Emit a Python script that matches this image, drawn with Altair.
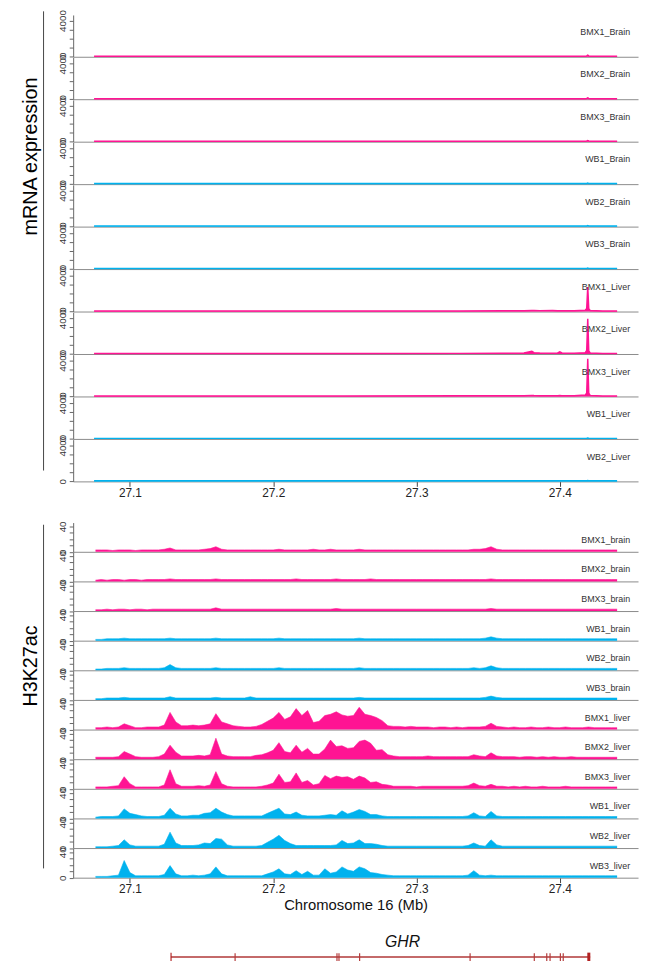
import altair as alt
import pandas as pd

FONT = "Liberation Sans"
PINK = "#FF1493"
BLUE = "#00B2EE"

X_DOMAIN = [27.0604, 27.4546]
X_TICKS = [27.1, 27.2, 27.3, 27.4]
PLOT_W = 572
MRNA_H = 42.3
H3_H = 29.6
MRNA_YMAX = 4610
H3_YMAX = 46
MRNA_TICKS = [0, 1000, 2000, 3000, 4000]
H3_TICKS = [0, 10, 20, 30, 40]

# ---------------- mRNA expression tracks ----------------
MRNA_POS = [27.075, 27.150, 27.250, 27.330, 27.360, 27.375, 27.3805, 27.382, 27.386,
            27.395, 27.3985, 27.400, 27.4015, 27.410, 27.4178, 27.4188, 27.4195,
            27.4202, 27.4212, 27.430, 27.440]

MRNA_SAMPLES = ["BMX1_Brain", "BMX2_Brain", "BMX3_Brain", "WB1_Brain", "WB2_Brain",
                "WB3_Brain", "BMX1_Liver", "BMX2_Liver", "BMX3_Liver", "WB1_Liver",
                "WB2_Liver"]

MRNA_BMX1_BRAIN = [60, 60, 60, 60, 60, 60, 60, 60, 60, 60, 60, 60, 60, 60, 60, 90, 180, 90, 60, 60, 60]
MRNA_BMX2_BRAIN = [60, 60, 60, 60, 60, 60, 60, 60, 60, 60, 60, 60, 60, 60, 60, 80, 150, 80, 60, 60, 60]
MRNA_BMX3_BRAIN = [60, 60, 60, 60, 60, 60, 60, 60, 60, 60, 60, 60, 60, 60, 60, 70, 120, 70, 60, 60, 60]
MRNA_WB1_BRAIN = [60, 60, 60, 60, 60, 60, 60, 60, 60, 60, 60, 60, 60, 60, 60, 80, 120, 80, 60, 60, 60]
MRNA_WB2_BRAIN = [60, 60, 60, 60, 60, 60, 60, 60, 60, 60, 60, 60, 60, 60, 60, 70, 110, 70, 60, 60, 60]
MRNA_WB3_BRAIN = [60, 60, 60, 60, 60, 60, 60, 60, 60, 60, 60, 60, 60, 60, 60, 70, 110, 70, 60, 60, 60]
MRNA_BMX1_LIVER = [50, 50, 60, 70, 90, 90, 110, 120, 100, 110, 90, 100, 90, 80, 150, 350, 2700, 300, 120, 60, 50]
MRNA_BMX2_LIVER = [50, 50, 60, 70, 90, 100, 300, 150, 100, 90, 120, 250, 110, 80, 150, 400, 3900, 350, 120, 60, 50]
MRNA_BMX3_LIVER = [50, 50, 60, 70, 80, 90, 120, 100, 90, 80, 90, 110, 90, 80, 150, 400, 4150, 350, 120, 60, 50]
MRNA_WB1_LIVER = [60, 60, 60, 60, 60, 60, 60, 60, 60, 60, 60, 60, 60, 60, 60, 70, 90, 70, 60, 60, 60]
MRNA_WB2_LIVER = [60, 60, 60, 60, 60, 60, 60, 60, 60, 60, 60, 60, 60, 60, 60, 70, 90, 70, 60, 60, 60]

MRNA_VALUES = [MRNA_BMX1_BRAIN, MRNA_BMX2_BRAIN, MRNA_BMX3_BRAIN, MRNA_WB1_BRAIN,
               MRNA_WB2_BRAIN, MRNA_WB3_BRAIN, MRNA_BMX1_LIVER, MRNA_BMX2_LIVER,
               MRNA_BMX3_LIVER, MRNA_WB1_LIVER, MRNA_WB2_LIVER]

# ---------------- H3K27ac tracks (bins of 4 kb) ----------------
BIN_START = 27.076
BIN_STEP = 0.004
N_BINS = 92
H3_POS = [round(BIN_START + BIN_STEP * i, 3) for i in range(N_BINS)]

H3_SAMPLES = ["BMX1_brain", "BMX2_brain", "BMX3_brain", "WB1_brain", "WB2_brain",
              "WB3_brain", "BMX1_liver", "BMX2_liver", "BMX3_liver", "WB1_liver",
              "WB2_liver", "WB3_liver"]

H3_BMX1_BRAIN = [3, 3, 3, 2, 3, 3, 3, 2, 3, 3,
                 3, 3, 4, 6, 3, 3, 3, 3, 3, 4,
                 5, 8, 4, 3, 3, 3, 3, 3, 3, 3,
                 3, 3, 4, 3, 3, 3, 3, 3, 4, 3,
                 3, 4, 3, 3, 3, 3, 4, 3, 3, 3,
                 3, 3, 3, 3, 3, 3, 3, 3, 3, 3,
                 3, 3, 3, 3, 3, 3, 4, 4, 5, 8,
                 4, 3, 3, 3, 3, 3, 3, 3, 3, 3,
                 3, 3, 3, 3, 3, 3, 3, 3, 3, 3,
                 3, 3]
H3_BMX2_BRAIN = [2, 3, 2, 3, 3, 2, 3, 3, 2, 3,
                 3, 3, 3, 4, 3, 3, 3, 3, 3, 3,
                 3, 4, 3, 3, 3, 3, 3, 3, 3, 3,
                 3, 3, 3, 3, 3, 4, 3, 3, 3, 3,
                 3, 3, 4, 3, 3, 3, 3, 3, 4, 3,
                 3, 3, 3, 3, 3, 3, 3, 3, 3, 3,
                 3, 3, 3, 3, 3, 3, 3, 3, 3, 4,
                 3, 3, 3, 3, 3, 3, 3, 3, 3, 3,
                 3, 3, 3, 3, 3, 3, 3, 3, 3, 3,
                 3, 3]
H3_BMX3_BRAIN = [2, 2, 3, 2, 3, 3, 2, 3, 3, 2,
                 3, 3, 3, 3, 3, 3, 3, 3, 3, 3,
                 3, 5, 3, 3, 3, 3, 3, 3, 3, 3,
                 3, 3, 3, 3, 3, 3, 3, 3, 3, 3,
                 3, 3, 4, 3, 3, 3, 3, 3, 3, 3,
                 3, 3, 3, 3, 3, 3, 3, 3, 3, 3,
                 3, 3, 3, 3, 3, 3, 3, 3, 3, 4,
                 3, 3, 3, 3, 3, 3, 3, 3, 3, 3,
                 3, 3, 3, 3, 3, 3, 3, 3, 3, 3,
                 3, 3]
H3_WB1_BRAIN = [2, 2, 3, 3, 3, 4, 3, 3, 3, 3,
                3, 3, 3, 4, 3, 3, 3, 3, 3, 3,
                3, 4, 3, 3, 3, 3, 3, 3, 3, 3,
                3, 3, 4, 3, 3, 3, 3, 3, 3, 3,
                3, 3, 3, 3, 3, 3, 4, 3, 3, 3,
                3, 3, 3, 3, 3, 3, 3, 3, 3, 3,
                3, 3, 3, 3, 3, 3, 3, 3, 4, 6,
                4, 3, 3, 3, 3, 3, 3, 3, 3, 3,
                3, 3, 3, 3, 3, 3, 3, 3, 3, 3,
                3, 3]
H3_WB2_BRAIN = [2, 2, 3, 3, 3, 4, 3, 3, 3, 3,
                3, 3, 4, 9, 4, 3, 3, 3, 3, 3,
                3, 4, 3, 3, 3, 3, 3, 3, 3, 3,
                3, 3, 4, 3, 3, 3, 3, 3, 3, 3,
                3, 3, 3, 3, 3, 3, 4, 3, 3, 3,
                3, 3, 3, 3, 3, 3, 3, 3, 3, 3,
                3, 3, 3, 3, 3, 3, 4, 3, 4, 7,
                4, 3, 3, 3, 3, 3, 3, 3, 3, 3,
                3, 3, 3, 3, 3, 3, 3, 3, 3, 3,
                3, 3]
H3_WB3_BRAIN = [2, 2, 3, 3, 3, 4, 3, 3, 3, 3,
                3, 3, 3, 5, 3, 3, 3, 3, 3, 3,
                3, 4, 3, 3, 3, 3, 3, 5, 3, 3,
                3, 3, 3, 3, 3, 3, 3, 3, 3, 3,
                3, 3, 3, 3, 3, 3, 4, 3, 3, 3,
                3, 3, 3, 3, 3, 3, 3, 3, 3, 3,
                3, 3, 3, 3, 3, 3, 3, 3, 4, 6,
                4, 3, 3, 3, 3, 3, 3, 3, 3, 3,
                3, 3, 3, 3, 3, 3, 3, 3, 3, 3,
                3, 3]
H3_BMX1_LIVER = [3, 3, 4, 3, 4, 9, 6, 3, 3, 4,
                 4, 4, 7, 27, 12, 6, 6, 7, 6, 7,
                 9, 25, 12, 9, 6, 5, 4, 4, 5, 8,
                 13, 18, 27, 16, 20, 33, 22, 30, 11, 13,
                 22, 24, 28, 23, 21, 22, 35, 24, 22, 19,
                 14, 6, 5, 5, 4, 5, 4, 4, 4, 3,
                 4, 4, 3, 4, 3, 4, 4, 4, 5, 10,
                 5, 4, 3, 4, 3, 3, 4, 3, 3, 4,
                 3, 3, 4, 3, 3, 3, 4, 3, 3, 3,
                 3, 3]
H3_BMX2_LIVER = [3, 3, 3, 3, 4, 12, 8, 4, 3, 3,
                 3, 4, 8, 22, 11, 5, 5, 5, 6, 5,
                 7, 33, 8, 5, 4, 4, 4, 4, 6, 7,
                 10, 14, 26, 12, 10, 22, 11, 17, 8, 8,
                 16, 30, 20, 21, 17, 18, 28, 30, 25, 14,
                 15, 7, 5, 4, 4, 4, 4, 4, 5, 4,
                 4, 4, 4, 4, 4, 4, 7, 5, 4, 10,
                 5, 4, 4, 4, 3, 4, 4, 3, 4, 3,
                 4, 3, 3, 4, 3, 3, 3, 3, 3, 3,
                 3, 3]
H3_BMX3_LIVER = [3, 3, 3, 4, 5, 19, 8, 3, 3, 3,
                 3, 3, 6, 30, 8, 4, 4, 4, 5, 4,
                 6, 27, 8, 4, 3, 3, 3, 3, 3, 4,
                 6, 9, 23, 10, 11, 25, 10, 13, 6, 8,
                 21, 16, 20, 18, 19, 15, 20, 17, 10, 11,
                 7, 6, 4, 4, 4, 4, 3, 4, 4, 4,
                 4, 4, 4, 4, 4, 5, 9, 5, 4, 7,
                 4, 4, 3, 4, 3, 4, 3, 3, 4, 3,
                 3, 3, 4, 3, 3, 3, 3, 3, 3, 3,
                 3, 3]
H3_WB1_LIVER = [2, 3, 3, 3, 4, 15, 8, 6, 4, 3,
                3, 3, 5, 16, 7, 4, 4, 5, 5, 8,
                9, 16, 10, 6, 4, 4, 4, 4, 4, 4,
                8, 12, 16, 7, 6, 10, 5, 4, 4, 4,
                5, 6, 5, 12, 7, 10, 14, 11, 6, 6,
                4, 3, 3, 3, 3, 3, 3, 3, 3, 3,
                3, 3, 3, 3, 3, 4, 9, 4, 3, 11,
                4, 3, 3, 3, 3, 3, 3, 3, 3, 3,
                3, 3, 3, 3, 3, 3, 3, 3, 3, 3,
                3, 3]
H3_WB2_LIVER = [2, 2, 2, 3, 4, 13, 5, 3, 3, 3,
                3, 3, 6, 25, 8, 4, 4, 4, 5, 8,
                7, 15, 14, 5, 3, 3, 3, 3, 3, 4,
                9, 14, 20, 12, 7, 4, 4, 4, 4, 4,
                4, 4, 5, 12, 7, 8, 13, 7, 7, 6,
                4, 3, 3, 3, 3, 3, 3, 3, 3, 3,
                3, 3, 3, 3, 3, 4, 8, 4, 3, 13,
                5, 3, 3, 3, 3, 3, 3, 3, 3, 3,
                3, 3, 3, 3, 3, 3, 3, 3, 3, 3,
                3, 3]
H3_WB3_LIVER = [2, 2, 2, 3, 4, 27, 8, 3, 3, 3,
                3, 3, 5, 19, 6, 3, 3, 4, 3, 4,
                6, 17, 6, 3, 3, 3, 3, 3, 3, 3,
                6, 9, 14, 6, 5, 11, 5, 10, 4, 4,
                14, 7, 9, 17, 12, 10, 17, 14, 8, 7,
                5, 4, 3, 3, 3, 3, 3, 3, 3, 3,
                3, 3, 3, 3, 3, 4, 11, 4, 3, 4,
                3, 3, 3, 3, 3, 3, 3, 3, 3, 3,
                3, 3, 3, 3, 3, 3, 3, 3, 3, 3,
                3, 3]

H3_VALUES = [H3_BMX1_BRAIN, H3_BMX2_BRAIN, H3_BMX3_BRAIN, H3_WB1_BRAIN, H3_WB2_BRAIN,
             H3_WB3_BRAIN, H3_BMX1_LIVER, H3_BMX2_LIVER, H3_BMX3_LIVER, H3_WB1_LIVER,
             H3_WB2_LIVER, H3_WB3_LIVER]

# ---------------- gene model ----------------
GENE_NAME = "GHR"
GENE_START = 27.1286
GENE_END = 27.4212
GENE_LABEL_POS = 27.2903
EXON_POS = [27.1734, 27.2445, 27.2459, 27.2603, 27.3374, 27.3822, 27.3909,
            27.3932, 27.4004, 27.4024]
EXON_BLOCK_START = [27.1283, 27.4192]
EXON_BLOCK_END = [27.1291, 27.4213]

XSCALE = alt.Scale(domain=X_DOMAIN, nice=False, zero=False)


def x_enc(last, title=None):
    if last:
        axis = alt.Axis(values=X_TICKS, format=".1f", ticks=True, tickSize=5,
                        tickColor="#444", labels=True, labelFontSize=12,
                        labelPadding=1, labelFlush=False, labelColor="#222",
                        domainColor="#8a8a8a", grid=False, titleFontSize=15,
                        titleFontWeight="normal", titleColor="#111", titlePadding=3)
    else:
        axis = alt.Axis(labels=False, ticks=False, domainColor="#8a8a8a", grid=False)
    return alt.X("pos:Q", scale=XSCALE, axis=axis, title=title)


def y_enc(ymax, ticks, top):
    expr = "datum.value == 0 || datum.value == %d ? datum.label : ''" % top
    axis = alt.Axis(values=ticks, labelExpr=expr, format="d", labelAngle=270,
                    labelAlign="center", labelBaseline="bottom", tickSize=4,
                    labelPadding=2, labelFontSize=10, labelColor="#333",
                    labelOverlap=False, grid=False, domainColor="#666",
                    tickColor="#666")
    return alt.Y("value:Q", scale=alt.Scale(domain=[0, ymax], nice=False, zero=True),
                 axis=axis, title=None)


def side_layers(title, ty, y1, y2):
    d = pd.DataFrame({"t": [title]})
    txt = alt.Chart(d).mark_text(angle=270, font=FONT, fontSize=20, color="#000",
                                 align="center", baseline="middle").encode(
        x=alt.value(-43), y=alt.value(ty), text="t:N")
    rule = alt.Chart(d).mark_rule(color="#444", strokeWidth=1).encode(
        x=alt.value(-30), y=alt.value(y1), y2=alt.value(y2))
    return [txt, rule]


def panel(name, pos, vals, color, height, ymax, ticks, top, label_y, lw,
          last=False, xtitle=None, side=None):
    df = pd.DataFrame({"pos": pos, "value": vals})
    area = alt.Chart(df).mark_area(
        color=color, opacity=1, line={"color": color, "strokeWidth": lw}
    ).encode(x=x_enc(last, xtitle), y=y_enc(ymax, ticks, top))
    lab = alt.Chart(pd.DataFrame({"t": [name]})).mark_text(
        align="right", baseline="middle", font=FONT, fontSize=9, color="#333"
    ).encode(x=alt.value(564), y=alt.value(label_y), text="t:N")
    layers = [area, lab]
    if side:
        layers += side
    return alt.layer(*layers).properties(width=PLOT_W, height=height)


def spacer(h):
    return alt.Chart(pd.DataFrame({"a": [0]})).mark_point(opacity=0).encode(
        x=alt.value(0), y=alt.value(0)).properties(width=PLOT_W, height=h)


rows = []
for k, (name, vals) in enumerate(zip(MRNA_SAMPLES, MRNA_VALUES)):
    color = PINK if name.startswith("BMX") else BLUE
    rows.append(panel(name, MRNA_POS, vals, color, MRNA_H, MRNA_YMAX, MRNA_TICKS,
                      4000, 17.3, 1.5, last=(k == len(MRNA_SAMPLES) - 1),
                      side=side_layers("mRNA expression", 143.3, -3.7, 461.3) if k == 0 else None))

rows.append(spacer(40.8))

for k, (name, vals) in enumerate(zip(H3_SAMPLES, H3_VALUES)):
    color = PINK if name.startswith("BMX") else BLUE
    last = k == len(H3_SAMPLES) - 1
    rows.append(panel(name, H3_POS, vals, color, H3_H, H3_YMAX, H3_TICKS, 40, 17.5, 0.6,
                      last=last, xtitle="Chromosome 16 (Mb)" if last else None,
                      side=side_layers("H3K27ac", 145.2, 2.2, 350.2) if k == 0 else None))

rows.append(spacer(52))

gene_line = alt.Chart(pd.DataFrame({"s": [GENE_START], "e": [GENE_END]})).mark_rule(
    color="#C46A6A", strokeWidth=2).encode(
    x=alt.X("s:Q", scale=XSCALE, axis=None), x2="e:Q", y=alt.value(28))
exon_rules = alt.Chart(pd.DataFrame({"p": EXON_POS})).mark_rule(
    color="#B33A3A", strokeWidth=1.2).encode(
    x=alt.X("p:Q", scale=XSCALE, axis=None), y=alt.value(24), y2=alt.value(32))
exon_blocks = alt.Chart(pd.DataFrame({"s": EXON_BLOCK_START, "e": EXON_BLOCK_END})).mark_rect(
    color="#B22222").encode(
    x=alt.X("s:Q", scale=XSCALE, axis=None), x2="e:Q", y=alt.value(23.5), y2=alt.value(32.5))
gene_label = alt.Chart(pd.DataFrame({"p": [GENE_LABEL_POS], "t": [GENE_NAME]})).mark_text(
    font=FONT, fontSize=16, fontStyle="italic", color="#111", align="center",
    baseline="middle").encode(
    x=alt.X("p:Q", scale=XSCALE, axis=None), y=alt.value(13), text="t:N")
gene = alt.layer(gene_line, exon_rules, exon_blocks, gene_label).properties(
    width=PLOT_W, height=30)
rows.append(gene)

chart = alt.vconcat(*rows, spacing=0, bounds="flush").properties(
    padding={"left": 12, "top": -6, "right": 2, "bottom": 0}
).configure_view(stroke="transparent").configure_axis(
    labelFont=FONT, titleFont=FONT)

chart.save("out.html", embed_options={"renderer": "svg", "actions": False})
